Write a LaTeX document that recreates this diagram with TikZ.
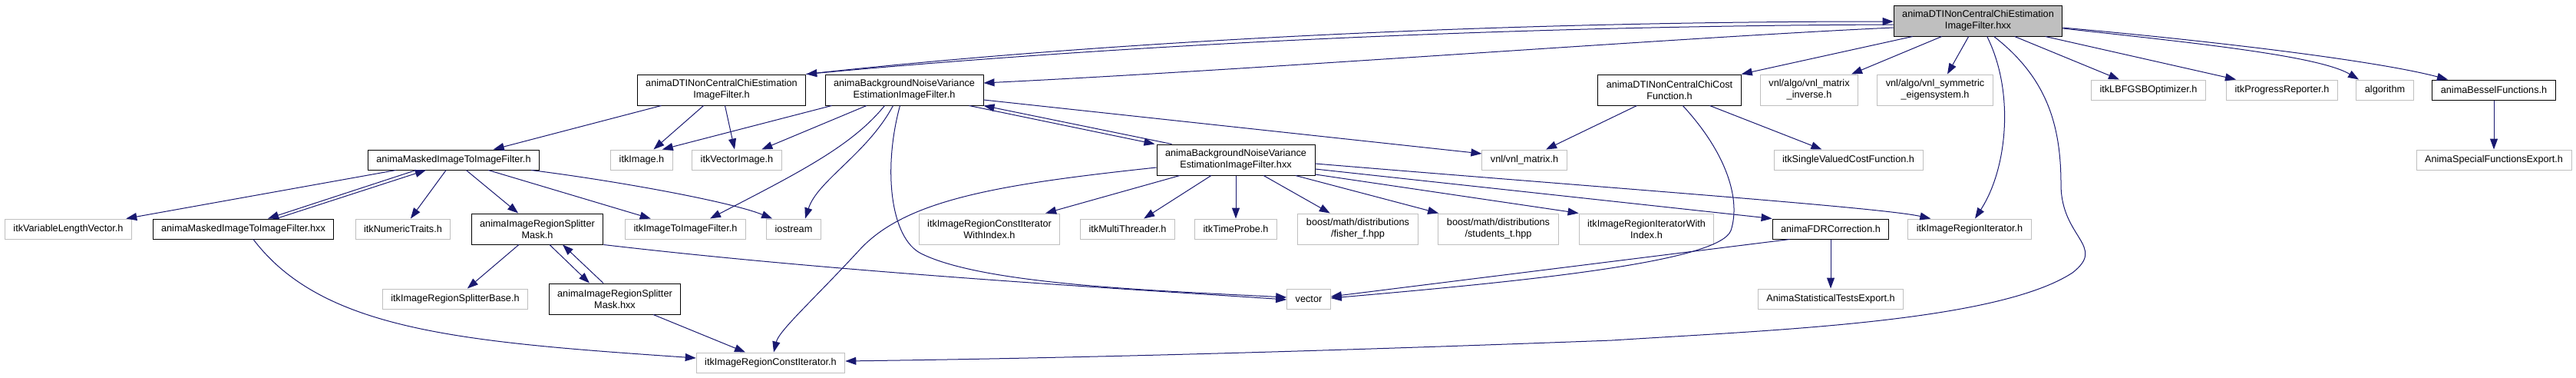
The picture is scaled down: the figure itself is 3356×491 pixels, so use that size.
\documentclass[tikz,border=0pt]{standalone}
\usepackage{fontspec}
\setmainfont{Liberation Sans}
\usetikzlibrary{arrows.meta}
\definecolor{edgeblue}{HTML}{191970}
\definecolor{boxgray}{HTML}{BFBFBF}
\definecolor{rootgray}{HTML}{BFBFBF}
\begin{document}
\begin{tikzpicture}[x=1pt, y=-1pt,
    box/.style = {draw, rectangle, line width=1pt, align=center, inner xsep=11pt, inner ysep=5pt,
                  minimum height=26pt, font=\fontsize{12.7}{15}\selectfont},
    main/.style = {box, draw=black},
    ext/.style = {box, draw=boxgray},
    tall/.style = {minimum height=40pt},
    edge/.style = {draw=edgeblue, line width=1pt, -{Triangle[length=14pt,width=10pt]}}]

    \useasboundingbox (0,0) rectangle (3356,491);

    \node[main, tall, fill=rootgray] (1) at (2577,27) {animaDTINonCentralChiEstimation\\ImageFilter.hxx};
    \node[main, tall] (2) at (940,117) {animaDTINonCentralChiEstimation\\ImageFilter.h};
    \node[main, tall] (3) at (1178,117) {animaBackgroundNoiseVariance\\EstimationImageFilter.h};
    \node[main, tall] (4) at (2175,117) {animaDTINonCentralChiCost\\Function.h};
    \node[ext, tall] (5) at (2357,117) {vnl/algo/vnl\_matrix\\\_inverse.h};
    \node[ext, tall] (6) at (2521,117) {vnl/algo/vnl\_symmetric\\\_eigensystem.h};
    \node[ext] (7) at (2799,117) {itkLBFGSBOptimizer.h};
    \node[ext] (8) at (2973,117) {itkProgressReporter.h};
    \node[ext] (9) at (3107,117) {algorithm};
    \node[main] (10) at (3249,117) {animaBesselFunctions.h};
    \node[ext] (11) at (3249,208) {AnimaSpecialFunctionsExport.h};
    \node[ext] (12) at (2408,208) {itkSingleValuedCostFunction.h};
    \node[main] (13) at (591,208) {animaMaskedImageToImageFilter.h};
    \node[ext] (14) at (836,208) {itkImage.h};
    \node[ext] (15) at (960,208) {itkVectorImage.h};
    \node[main, tall] (16) at (1610,208) {animaBackgroundNoiseVariance\\EstimationImageFilter.hxx};
    \node[ext] (17) at (1986,208) {vnl/vnl\_matrix.h};
    \node[ext] (18) at (89,298) {itkVariableLengthVector.h};
    \node[main] (19) at (317,298) {animaMaskedImageToImageFilter.hxx};
    \node[ext] (20) at (525,298) {itkNumericTraits.h};
    \node[main, tall] (21) at (700,298) {animaImageRegionSplitter\\Mask.h};
    \node[ext] (22) at (893,298) {itkImageToImageFilter.h};
    \node[ext] (23) at (1034,298) {iostream};
    \node[ext, tall] (24) at (1289,298) {itkImageRegionConstIterator\\WithIndex.h};
    \node[ext] (25) at (1469,298) {itkMultiThreader.h};
    \node[ext] (26) at (1610,298) {itkTimeProbe.h};
    \node[ext, tall] (27) at (1769,298) {boost/math/distributions\\/fisher\_f.hpp};
    \node[ext, tall] (28) at (1952,298) {boost/math/distributions\\/students\_t.hpp};
    \node[ext, tall] (29) at (2145,298) {itkImageRegionIteratorWith\\Index.h};
    \node[main] (30) at (2385,298) {animaFDRCorrection.h};
    \node[ext] (31) at (2566,298) {itkImageRegionIterator.h};
    \node[ext] (32) at (593,389) {itkImageRegionSplitterBase.h};
    \node[main, tall] (33) at (801,389) {animaImageRegionSplitter\\Mask.hxx};
    \node[ext] (34) at (1705,389) {vector};
    \node[ext] (35) at (2385,389) {AnimaStatisticalTestsExport.h};
    \node[ext] (36) at (1004,472) {itkImageRegionConstIterator.h};

    % from the .hxx file
    \draw[edge] ([yshift=-5pt]1.west) .. controls (1900,34) and (1400,64) .. (2.north east);
    \draw[edge] (2.north east) .. controls (1400,58) and (1900,28) .. ([yshift=-1pt]1.west);
    \draw[edge] ([yshift=-9pt]1.west) .. controls (2200,48) and (1650,90) .. ([yshift=9pt]3.east);
    \draw[edge] ([xshift=25pt]1.south west) -- (4.north east);
    \draw[edge] ([xshift=63pt]1.south west) -- ([xshift=-9pt]5.north east);
    \draw[edge] ([xshift=98pt]1.south west) -- ([xshift=16pt]6.north);
    \draw[edge] ([xshift=122pt]1.south west) .. controls (2625,120) and (2615,220) .. ([xshift=7pt]31.north);
    \draw[edge] ([xshift=131pt]1.south west) .. controls (2665,100) and (2685,160) .. (2685,240)
        .. controls (2685,310) and (2745,320) .. (2700,355)
        .. controls (2600,420) and (2300,430) .. (2100,443)
        .. controls (1700,458) and (1400,466) .. ([yshift=2pt]36.east);
    \draw[edge] ([xshift=158pt]1.south west) -- ([xshift=-38pt]7.north);
    \draw[edge] ([xshift=198pt]1.south west) -- ([xshift=-60pt]8.north);
    \draw[edge] ([yshift=-10pt]1.east) .. controls (2850,55) and (3020,72) .. ([xshift=-34pt]9.north);
    \draw[edge] ([yshift=-9pt]1.east) .. controls (2900,55) and (3100,80) .. ([xshift=-60pt]10.north);

    \draw[edge] (2) -- (13);
    \draw[edge] (2) -- (14);
    \draw[edge] (2) -- (15);

    \draw[edge] ([xshift=9pt]3.south west) -- ([xshift=-14pt]14.north east);
    \draw[edge] (3) -- (15);
    \draw[edge] ([xshift=78pt]3.south west) .. controls (1110,190) and (1040,225) .. ([xshift=32pt]22.north);
    \draw[edge] ([xshift=89pt]3.south west) .. controls (1130,200) and (1065,235) .. ([xshift=15pt]23.north);
    \draw[edge] ([xshift=98pt]3.south west) .. controls (1150,220) and (1160,310) .. (1200,330)
        .. controls (1280,370) and (1500,378) .. ([yshift=2pt]34.west);
    \draw[edge] ([xshift=-19pt]3.south east) -- ([xshift=-2pt]16.north west);
    \draw[edge] ([xshift=20pt]16.north west) -- (3.south east);
    \draw[edge] ([yshift=-13pt]3.east) -- ([yshift=8pt]17.west);

    \draw[edge] (4) -- (17);
    \draw[edge] (4) -- (12);
    \draw[edge] ([xshift=111pt]4.south west) .. controls (2250,200) and (2268,260) .. (2255,300)
        .. controls (2240,340) and (2000,365) .. ([yshift=1pt]34.east);

    \draw[edge] ([yshift=-10pt]16.west) .. controls (1300,240) and (1180,260) .. (1120,325)
        .. controls (1060,390) and (1015,430) .. ([xshift=4pt]36.north);
    \draw[edge] (16) -- (24);
    \draw[edge] (16) -- (25);
    \draw[edge] (16) -- (26);
    \draw[edge] (16) -- (27);
    \draw[edge] (16) -- (28);
    \draw[edge] ([yshift=-19pt]16.east) -- (29.north west);
    \draw[edge] ([yshift=-12pt]16.east) -- (30.north west);
    \draw[edge] ([yshift=-5pt]16.east) .. controls (2100,245) and (2450,270) .. ([xshift=30pt]31.north west);

    \draw[edge] (13) -- (18);
    \draw[edge] ([xshift=63pt]13.south west) -- ([xshift=32pt]19.north);
    \draw[edge] ([xshift=43pt]19.north) -- ([xshift=76pt]13.south west);
    \draw[edge] (13) -- (20);
    \draw[edge] (13) -- (21);
    \draw[edge] (13) -- (22);
    \draw[edge] ([xshift=-11pt]13.south east) .. controls (800,235) and (950,262) .. ([xshift=8pt]23.north west);
    \draw[edge] ([xshift=13pt]19.south) .. controls (420,430) and (600,445) .. ([yshift=6pt]36.west);

    \draw[edge] (21) -- (32);
    \draw[edge] ([xshift=16pt]21.south) -- ([xshift=-33pt]33.north);
    \draw[edge] ([xshift=-15pt]33.north) -- ([xshift=33pt]21.south);
    \draw[edge] (21.south east) .. controls (1100,355) and (1450,375) .. ([yshift=-1pt]34.west);
    \draw[edge] (33) -- (36);

    \draw[edge] (30) -- (35);
    \draw[edge] ([xshift=23pt]30.south west) -- ([yshift=3pt]34.east);
    \draw[edge] (10) -- (11);

\end{tikzpicture}
\end{document}
